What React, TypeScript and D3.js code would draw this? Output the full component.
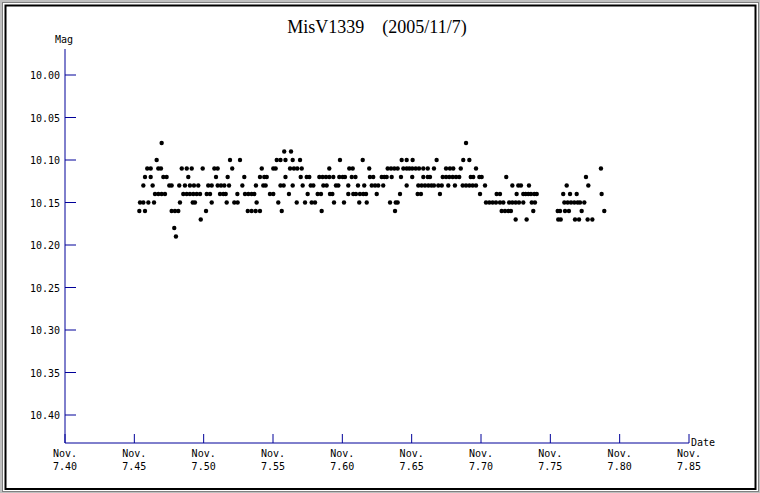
import React, { useEffect, useRef } from "react";
import * as d3 from "d3";

// Observation times (day of Nov. 2005) grouped by magnitude level
const magLevels = [10.08, 10.09, 10.10, 10.11, 10.12, 10.13, 10.14, 10.15, 10.16, 10.17, 10.18, 10.19];

const t1008 = [7.4697, 7.6892];
const t1009 = [7.5581, 7.5630];
const t1010 = [7.4661, 7.5190, 7.5262, 7.5527, 7.5554, 7.5590, 7.5642, 7.5695, 7.5983, 7.6147, 7.6428, 7.6464, 7.6507, 7.6680, 7.6872, 7.6916];
const t1011 = [7.4593, 7.4618, 7.4673, 7.4692, 7.4842, 7.4878, 7.4914, 7.4993, 7.5077, 7.5101, 7.5206, 7.5419, 7.5502, 7.5519, 7.5623, 7.5651, 7.5675, 7.5707, 7.5906, 7.6050, 7.6075, 7.6194, 7.6327, 7.6351, 7.6375, 7.6399, 7.6440, 7.6464, 7.6483, 7.6504, 7.6529, 7.6553, 7.6584, 7.6616, 7.6661, 7.6748, 7.6776, 7.6800, 7.6854, 7.6964, 7.7865];
const t1012 = [7.4577, 7.4618, 7.4709, 7.4733, 7.4889, 7.5089, 7.5173, 7.5293, 7.5406, 7.5437, 7.5455, 7.5590, 7.5700, 7.5743, 7.5762, 7.5834, 7.5858, 7.5882, 7.5906, 7.5935, 7.5978, 7.6003, 7.6019, 7.6068, 7.6095, 7.6199, 7.6223, 7.6284, 7.6303, 7.6320, 7.6356, 7.6423, 7.6504, 7.6584, 7.6616, 7.6632, 7.6724, 7.6748, 7.6771, 7.6796, 7.6820, 7.6843, 7.6926, 7.6944, 7.6988, 7.7005, 7.7182, 7.7757];
const t1013 = [7.4565, 7.4632, 7.4752, 7.4769, 7.4824, 7.4865, 7.4901, 7.4930, 7.4961, 7.5033, 7.5058, 7.5101, 7.5125, 7.5149, 7.5183, 7.5279, 7.5377, 7.5430, 7.5447, 7.5554, 7.5577, 7.5642, 7.5714, 7.5772, 7.5791, 7.5863, 7.5887, 7.5954, 7.5971, 7.6043, 7.6113, 7.6158, 7.6212, 7.6236, 7.6259, 7.6295, 7.6464, 7.6548, 7.6572, 7.6596, 7.6620, 7.6642, 7.6661, 7.6692, 7.6717, 7.6764, 7.6812, 7.6868, 7.6892, 7.6916, 7.6940, 7.6964, 7.7029, 7.7226, 7.7269, 7.7288, 7.7346, 7.7618, 7.7774];
const t1014 = [7.4649, 7.4673, 7.4697, 7.4721, 7.4853, 7.4878, 7.4901, 7.4925, 7.4950, 7.4974, 7.5022, 7.5046, 7.5118, 7.5142, 7.5159, 7.5243, 7.5298, 7.5322, 7.5346, 7.5365, 7.5478, 7.5502, 7.5615, 7.5750, 7.5822, 7.5846, 7.5911, 7.5928, 7.6043, 7.6079, 7.6098, 7.6127, 7.6151, 7.6171, 7.6248, 7.6416, 7.6543, 7.6567, 7.6704, 7.6993, 7.7113, 7.7137, 7.7257, 7.7305, 7.7322, 7.7341, 7.7360, 7.7384, 7.7402, 7.7593, 7.7642, 7.7690, 7.7870];
const t1015 = [7.4541, 7.4565, 7.4601, 7.4642, 7.4829, 7.4921, 7.4937, 7.5058, 7.5166, 7.5221, 7.5245, 7.5382, 7.5538, 7.5671, 7.5731, 7.5779, 7.5803, 7.5940, 7.6012, 7.6122, 7.6176, 7.6344, 7.6385, 7.6399, 7.7036, 7.7060, 7.7084, 7.7108, 7.7137, 7.7161, 7.7203, 7.7226, 7.7250, 7.7274, 7.7305, 7.7366, 7.7389, 7.7601, 7.7625, 7.7649, 7.7673, 7.7697, 7.7714, 7.7745];
const t1016 = [7.4536, 7.4577, 7.4769, 7.4793, 7.4817, 7.5017, 7.5318, 7.5346, 7.5375, 7.5406, 7.5563, 7.5851, 7.6380, 7.7149, 7.7173, 7.7197, 7.7216, 7.7377, 7.7553, 7.7570, 7.7606, 7.7634, 7.7726, 7.7889];
const t1017 = [7.4979, 7.7250, 7.7329, 7.7557, 7.7575, 7.7678, 7.7707, 7.7769, 7.7803];
const t1018 = [7.4788];
const t1019 = [7.4800];

const timesByLevel = [t1008, t1009, t1010, t1011, t1012, t1013, t1014, t1015, t1016, t1017, t1018, t1019];

const xTicks = [7.40, 7.45, 7.50, 7.55, 7.60, 7.65, 7.70, 7.75, 7.80, 7.85];
const yTicks = [10.00, 10.05, 10.10, 10.15, 10.20, 10.25, 10.30, 10.35, 10.40];

const title = "MisV1339\u3000(2005/11/7)";

export default function App() {
  const ref = useRef<SVGSVGElement | null>(null);

  useEffect(() => {
    const svg = d3.select(ref.current);
    svg.selectAll("*").remove();

    const W = 760, H = 493;
    const axisColor = "#000099";
    const mono = "'DejaVu Sans Mono', 'Liberation Mono', monospace";

    // window frame
    svg.append("rect").attr("x", 0).attr("y", 0).attr("width", W).attr("height", H).attr("fill", "#c0c0c0");
    svg.append("rect").attr("x", 2.5).attr("y", 2.5).attr("width", W - 4).attr("height", H - 4)
      .attr("fill", "#ffffff").attr("stroke", "#808080").attr("stroke-width", 1);
    svg.append("rect").attr("x", 5.5).attr("y", 5.5).attr("width", 750).attr("height", 483.5)
      .attr("fill", "#ffffff").attr("stroke", "#000000").attr("stroke-width", 2);

    const x = d3.scaleLinear().domain([7.40, 7.85]).range([65, 689]);
    const y = d3.scaleLinear().domain([10.00, 10.40]).range([75, 415]);
    const yAxisTop = 49;
    const xAxisY = 443;

    // title
    svg.append("text")
      .attr("x", 377).attr("y", 33)
      .attr("text-anchor", "middle")
      .attr("font-family", "'Liberation Serif', 'DejaVu Serif', serif")
      .attr("font-size", 18)
      .attr("fill", "#000")
      .text(title);

    // y axis
    svg.append("line").attr("x1", 65).attr("x2", 65).attr("y1", yAxisTop).attr("y2", xAxisY)
      .attr("stroke", axisColor).attr("stroke-width", 1);
    svg.append("text").attr("x", 64).attr("y", 43).attr("text-anchor", "middle")
      .attr("font-family", mono).attr("font-size", 10).attr("fill", "#000").text("Mag");

    const yg = svg.append("g");
    yTicks.forEach((v) => {
      yg.append("line").attr("x1", 65).attr("x2", 76).attr("y1", y(v)).attr("y2", y(v))
        .attr("stroke", axisColor).attr("stroke-width", 1);
      yg.append("text").attr("x", 60).attr("y", y(v) + 4).attr("text-anchor", "end")
        .attr("font-family", mono).attr("font-size", 10).attr("fill", "#000")
        .text(d3.format(".2f")(v));
    });

    // x axis
    svg.append("line").attr("x1", 65).attr("x2", x(7.85)).attr("y1", xAxisY).attr("y2", xAxisY)
      .attr("stroke", axisColor).attr("stroke-width", 1);
    const xg = svg.append("g");
    xTicks.forEach((v) => {
      xg.append("line").attr("x1", x(v)).attr("x2", x(v)).attr("y1", xAxisY).attr("y2", xAxisY - 9)
        .attr("stroke", axisColor).attr("stroke-width", 1);
      xg.append("text").attr("x", x(v)).attr("y", 457).attr("text-anchor", "middle")
        .attr("font-family", mono).attr("font-size", 10).attr("fill", "#000").text("Nov.");
      xg.append("text").attr("x", x(v)).attr("y", 470).attr("text-anchor", "middle")
        .attr("font-family", mono).attr("font-size", 10).attr("fill", "#000")
        .text(d3.format(".2f")(v));
    });
    svg.append("text").attr("x", 691).attr("y", 446).attr("text-anchor", "start")
      .attr("font-family", mono).attr("font-size", 10).attr("fill", "#000").text("Date");

    // data points
    const points: { t: number; m: number }[] = [];
    magLevels.forEach((m, i) => timesByLevel[i].forEach((t) => points.push({ t, m })));

    svg.append("g").selectAll("circle").data(points).enter().append("circle")
      .attr("cx", (d) => x(d.t)).attr("cy", (d) => y(d.m)).attr("r", 2.2)
      .attr("fill", "#000");
  }, []);

  return (
    <svg ref={ref} width={760} height={493}
      style={{ position: "absolute", left: 0, top: 0, display: "block" }} />
  );
}
